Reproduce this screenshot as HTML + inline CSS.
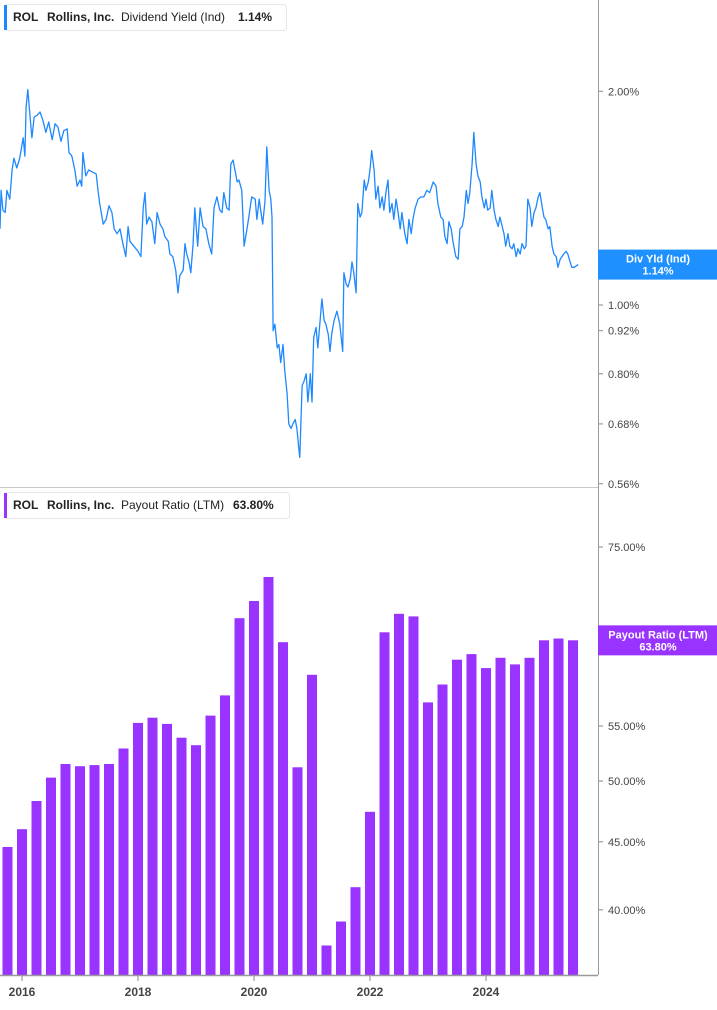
<!DOCTYPE html>
<html><head><meta charset="utf-8"><style>
body{margin:0;background:#fff;font-family:"Liberation Sans",sans-serif;}
svg text{font-family:"Liberation Sans",sans-serif;}
</style></head><body>
<svg id="chart" width="717" height="1005" viewBox="0 0 717 1005" xmlns="http://www.w3.org/2000/svg">
<rect x="0" y="0" width="717" height="1005" fill="#fff"/>
<g id="yieldAxis"></g>
<g id="payoutAxis"></g>
<g id="xAxis"></g>
<path id="yieldLine" fill="none" stroke="#1e88ff" stroke-width="1.3" stroke-linejoin="round"/>
<g id="bars"></g>
<line x1="0" y1="487.5" x2="598" y2="487.5" stroke="#c8c8c8" stroke-width="1"/>
<line x1="598.5" y1="0" x2="598.5" y2="975" stroke="#9a9a9a" stroke-width="1"/>
<line x1="0" y1="975.5" x2="598" y2="975.5" stroke="#9a9a9a" stroke-width="1.5"/>

<g>
<rect x="4.5" y="4.5" width="282" height="26" rx="3" fill="#fff" stroke="#e6e6e6"/>
<rect x="4" y="5" width="3" height="25" fill="#1e88ff"/>
<text x="13" y="21" font-size="12" font-weight="bold" fill="#222">ROL</text>
<text x="47" y="21" font-size="12" font-weight="bold" fill="#222">Rollins, Inc.</text>
<text x="121" y="21" font-size="12" fill="#222">Dividend Yield (Ind)</text>
<text x="238" y="21" font-size="12" font-weight="bold" fill="#222">1.14%</text>
</g>
<g>
<rect x="4.5" y="492.5" width="285" height="26" rx="3" fill="#fff" stroke="#e6e6e6"/>
<rect x="4" y="493" width="3" height="25" fill="#9933ff"/>
<text x="13" y="509" font-size="12" font-weight="bold" fill="#222">ROL</text>
<text x="47" y="509" font-size="12" font-weight="bold" fill="#222">Rollins, Inc.</text>
<text x="121" y="509" font-size="12" fill="#222">Payout Ratio (LTM)</text>
<text x="233" y="509" font-size="12" font-weight="bold" fill="#222">63.80%</text>
</g>
</svg>
<script>
const yieldDates=[2015.62,2015.64,2015.67,2015.71,2015.74,2015.79,2015.83,2015.86,2015.91,2015.96,2016.02,2016.05,2016.07,2016.10,2016.14,2016.17,2016.21,2016.26,2016.31,2016.36,2016.41,2016.46,2016.52,2016.57,2016.62,2016.67,2016.72,2016.78,2016.81,2016.86,2016.91,2016.95,2017.00,2017.03,2017.05,2017.10,2017.15,2017.21,2017.28,2017.31,2017.34,2017.40,2017.45,2017.50,2017.55,2017.59,2017.64,2017.69,2017.74,2017.79,2017.83,2017.86,2017.93,2018.00,2018.05,2018.09,2018.12,2018.15,2018.19,2018.24,2018.29,2018.33,2018.38,2018.43,2018.46,2018.52,2018.55,2018.60,2018.65,2018.69,2018.72,2018.78,2018.81,2018.84,2018.88,2018.91,2018.95,2018.98,2019.03,2019.07,2019.12,2019.17,2019.22,2019.27,2019.31,2019.36,2019.41,2019.45,2019.48,2019.53,2019.57,2019.60,2019.64,2019.67,2019.71,2019.74,2019.79,2019.83,2019.88,2019.91,2019.96,2020.02,2020.05,2020.09,2020.12,2020.15,2020.19,2020.22,2020.26,2020.29,2020.31,2020.33,2020.36,2020.40,2020.43,2020.46,2020.50,2020.53,2020.57,2020.60,2020.64,2020.67,2020.71,2020.74,2020.78,2020.79,2020.83,2020.86,2020.90,2020.93,2020.97,2021.00,2021.03,2021.07,2021.10,2021.14,2021.17,2021.21,2021.24,2021.28,2021.31,2021.34,2021.38,2021.43,2021.48,2021.53,2021.55,2021.59,2021.62,2021.66,2021.69,2021.72,2021.76,2021.79,2021.83,2021.86,2021.90,2021.93,2021.97,2022.00,2022.03,2022.07,2022.10,2022.14,2022.17,2022.21,2022.24,2022.28,2022.31,2022.34,2022.38,2022.41,2022.45,2022.48,2022.52,2022.55,2022.60,2022.64,2022.67,2022.71,2022.74,2022.78,2022.83,2022.88,2022.93,2022.98,2023.03,2023.09,2023.14,2023.17,2023.22,2023.26,2023.29,2023.33,2023.36,2023.40,2023.43,2023.48,2023.52,2023.55,2023.59,2023.62,2023.66,2023.69,2023.72,2023.76,2023.79,2023.83,2023.86,2023.90,2023.93,2023.97,2024.00,2024.03,2024.07,2024.10,2024.14,2024.17,2024.21,2024.24,2024.28,2024.31,2024.34,2024.38,2024.41,2024.45,2024.48,2024.52,2024.55,2024.59,2024.62,2024.66,2024.69,2024.72,2024.76,2024.79,2024.83,2024.86,2024.90,2024.93,2024.97,2025.00,2025.03,2025.07,2025.10,2025.14,2025.17,2025.21,2025.24,2025.28,2025.31,2025.34,2025.38,2025.41,2025.45,2025.48,2025.52,2025.59];
const yieldValues=[1.28,1.45,1.36,1.35,1.45,1.41,1.55,1.61,1.56,1.61,1.72,1.62,1.90,2.01,1.84,1.72,1.84,1.85,1.87,1.82,1.75,1.81,1.71,1.80,1.78,1.70,1.76,1.77,1.64,1.62,1.55,1.47,1.50,1.47,1.64,1.52,1.55,1.54,1.53,1.45,1.39,1.30,1.32,1.38,1.35,1.28,1.26,1.28,1.22,1.17,1.29,1.23,1.21,1.19,1.17,1.37,1.44,1.30,1.33,1.31,1.22,1.35,1.30,1.28,1.25,1.23,1.18,1.17,1.12,1.04,1.10,1.12,1.22,1.18,1.15,1.11,1.22,1.37,1.21,1.37,1.29,1.28,1.22,1.18,1.37,1.42,1.36,1.35,1.44,1.37,1.36,1.58,1.60,1.55,1.49,1.50,1.45,1.21,1.28,1.33,1.42,1.41,1.32,1.41,1.35,1.30,1.40,1.67,1.45,1.41,1.33,0.92,0.94,0.87,0.88,0.83,0.88,0.81,0.75,0.68,0.67,0.68,0.69,0.67,0.62,0.61,0.77,0.78,0.80,0.73,0.80,0.73,0.90,0.93,0.87,0.95,1.02,0.95,0.94,0.91,0.86,0.91,0.95,0.98,0.94,0.86,1.11,1.07,1.06,1.09,1.15,1.11,1.04,1.39,1.33,1.35,1.50,1.45,1.49,1.55,1.65,1.55,1.41,1.47,1.37,1.42,1.36,1.45,1.50,1.35,1.39,1.32,1.41,1.36,1.28,1.35,1.26,1.22,1.32,1.26,1.32,1.37,1.41,1.42,1.42,1.45,1.44,1.49,1.47,1.39,1.33,1.32,1.25,1.22,1.31,1.28,1.23,1.17,1.16,1.28,1.29,1.33,1.45,1.39,1.44,1.58,1.75,1.58,1.52,1.49,1.42,1.37,1.41,1.36,1.37,1.45,1.36,1.32,1.29,1.33,1.29,1.26,1.21,1.26,1.21,1.20,1.22,1.17,1.20,1.18,1.22,1.20,1.21,1.41,1.37,1.29,1.35,1.37,1.42,1.44,1.37,1.33,1.32,1.28,1.29,1.21,1.18,1.17,1.13,1.16,1.17,1.18,1.19,1.18,1.15,1.13,1.13,1.14];
const payoutDates=[2015.75,2016.00,2016.25,2016.50,2016.75,2017.00,2017.25,2017.50,2017.75,2018.00,2018.25,2018.50,2018.75,2019.00,2019.25,2019.50,2019.75,2020.00,2020.25,2020.50,2020.75,2021.00,2021.25,2021.50,2021.75,2022.00,2022.25,2022.50,2022.75,2023.00,2023.25,2023.50,2023.75,2024.00,2024.25,2024.50,2024.75,2025.00,2025.25,2025.50];
const payoutValues=[44.6,46.0,48.3,50.3,51.5,51.3,51.4,51.5,52.9,55.3,55.8,55.2,53.9,53.2,56.0,58.0,66.3,68.3,71.2,63.6,51.2,60.1,37.6,39.2,41.6,47.4,64.7,66.8,66.5,57.3,59.1,61.7,62.3,60.8,61.9,61.2,61.9,63.8,64.0,63.8];
const yieldTicks=[2.00,1.00,0.92,0.80,0.68,0.56];
const payoutTicks=[75,65,55,50,45,40];
const yearTicks=[2016,2018,2020,2022,2024];
const lastYield=1.14, lastPayout=63.80;

const NS='http://www.w3.org/2000/svg';
const xScale=t=>22+(t-2016)*58;
const yYield=v=>305-710*Math.log10(v);
const yPay=v=>547+1329*Math.log10(75/v);
function mk(tag,attrs,parent){const e=document.createElementNS(NS,tag);for(const k in attrs)e.setAttribute(k,attrs[k]);parent.appendChild(e);return e;}

let d='';
yieldDates.forEach((t,i)=>{d+=(i?'L':'M')+xScale(t).toFixed(1)+' '+yYield(yieldValues[i]).toFixed(1);});
document.getElementById('yieldLine').setAttribute('d',d);

const bars=document.getElementById('bars');
payoutDates.forEach((t,i)=>{
  const y=yPay(payoutValues[i]);
  const r=mk('rect',{x:(xScale(t)-5).toFixed(1),y:y.toFixed(1),width:10,height:(975-y).toFixed(1),fill:'#9933ff'},bars);
  
  
});

const ya=document.getElementById('yieldAxis');
yieldTicks.forEach(v=>{
  const y=yYield(v);
  const g=mk('g',{},ya);
  
  
  mk('line',{x1:599,y1:y,x2:603,y2:y,stroke:'#888'},g);
  const tx=mk('text',{x:608,y:y+4,'font-size':11,fill:'#444'},g);tx.textContent=v.toFixed(2)+'%';
});
const pa=document.getElementById('payoutAxis');
payoutTicks.forEach(v=>{
  const y=yPay(v);
  const g=mk('g',{},pa);
  
  
  mk('line',{x1:599,y1:y,x2:603,y2:y,stroke:'#888'},g);
  const tx=mk('text',{x:608,y:y+4,'font-size':11,fill:'#444'},g);tx.textContent=v.toFixed(2)+'%';
});
const xa=document.getElementById('xAxis');
yearTicks.forEach(yr=>{
  const x=xScale(yr);
  const g=mk('g',{},xa);
  
  
  mk('line',{x1:x,y1:976,x2:x,y2:981,stroke:'#888'},g);
  const tx=mk('text',{x:x,y:996,'font-size':12,'font-weight':'bold',fill:'#444','text-anchor':'middle'},g);tx.textContent=yr;
});

const svg=document.getElementById('chart');
function badge(y,color,l1,l2,name){
  const g=mk('g',{},svg);
  
  
  mk('rect',{x:598,y:y-15,width:119,height:30,fill:color},g);
  const a=mk('text',{x:658,y:y-2,'font-size':11,'font-weight':'bold',fill:'#fff','text-anchor':'middle'},g);a.textContent=l1;
  const b=mk('text',{x:658,y:y+10,'font-size':11,'font-weight':'bold',fill:'#fff','text-anchor':'middle'},g);b.textContent=l2;
}
badge(yYield(lastYield),'#1e90ff','Div Yld (Ind)',lastYield.toFixed(2)+'%','yield-value-badge');
badge(yPay(lastPayout),'#9933ff','Payout Ratio (LTM)',lastPayout.toFixed(2)+'%','payout-value-badge');
</script>
</body></html>
